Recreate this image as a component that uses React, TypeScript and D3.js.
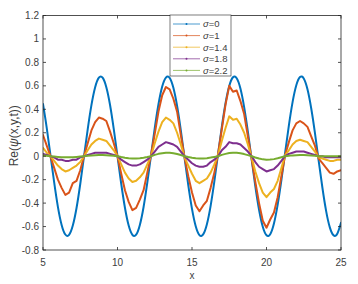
import React from "react";
import * as d3 from "d3";

const xStart = 5;
const xStep = 0.25;

const sigma0 = [0.445, 0.242, 0.009, -0.224, -0.432, -0.586, -0.668, -0.671, -0.592, -0.442, -0.237, -0.003, 0.229, 0.435, 0.588, 0.67, 0.67, 0.589, 0.437, 0.231, -0.002, -0.235, -0.44, -0.592, -0.67, -0.669, -0.586, -0.433, -0.226, 0.008, 0.24, 0.443, 0.594, 0.671, 0.668, 0.583, 0.428, 0.22, -0.014, -0.246, -0.449, -0.597, -0.673, -0.667, -0.58, -0.423, -0.215, 0.02, 0.251, 0.453, 0.599, 0.673, 0.665, 0.577, 0.418, 0.209, -0.025, -0.257, -0.457, -0.602, -0.674, -0.665, -0.574, -0.413, -0.204, 0.031, 0.261, 0.461, 0.605, 0.675, 0.663, 0.571, 0.409, 0.199, -0.037, -0.267, -0.466, -0.607, -0.675, -0.662, -0.568];

const sigma1 = [0.18, 0.09, 0.0, -0.1, -0.2, -0.27, -0.33, -0.31, -0.23, -0.21, -0.12, 0.0, 0.11, 0.22, 0.29, 0.33, 0.32, 0.3, 0.21, 0.11, 0.0, -0.15, -0.29, -0.39, -0.46, -0.44, -0.37, -0.29, -0.14, 0.01, 0.19, 0.38, 0.52, 0.59, 0.57, 0.49, 0.38, 0.18, -0.01, -0.17, -0.31, -0.42, -0.47, -0.42, -0.38, -0.27, -0.14, 0.02, 0.23, 0.44, 0.6, 0.55, 0.56, 0.47, 0.36, 0.17, -0.02, -0.22, -0.4, -0.55, -0.61, -0.54, -0.48, -0.35, -0.17, 0.01, 0.12, 0.22, 0.28, 0.3, 0.28, 0.25, 0.17, 0.09, -0.02, -0.06, -0.1, -0.14, -0.15, -0.13, -0.12];

const sigma14 = [0.07, 0.03, 0.0, -0.04, -0.08, -0.11, -0.13, -0.12, -0.1, -0.08, -0.05, 0.0, 0.05, 0.1, 0.13, 0.15, 0.14, 0.13, 0.09, 0.05, 0.0, -0.07, -0.14, -0.19, -0.22, -0.21, -0.18, -0.14, -0.07, 0.0, 0.11, 0.21, 0.29, 0.33, 0.31, 0.28, 0.2, 0.1, -0.01, -0.08, -0.15, -0.21, -0.23, -0.21, -0.19, -0.14, -0.07, 0.01, 0.13, 0.24, 0.34, 0.31, 0.32, 0.27, 0.2, 0.1, -0.01, -0.13, -0.23, -0.31, -0.35, -0.31, -0.28, -0.21, -0.1, 0.01, 0.05, 0.1, 0.13, 0.14, 0.13, 0.12, 0.08, 0.04, -0.01, -0.02, -0.03, -0.04, -0.04, -0.03, -0.03];

const sigma18 = [0.02, 0.01, 0.0, -0.01, -0.03, -0.03, -0.04, -0.04, -0.03, -0.03, -0.01, 0.0, 0.01, 0.02, 0.03, 0.03, 0.03, 0.03, 0.02, 0.01, 0.0, -0.03, -0.05, -0.07, -0.08, -0.08, -0.07, -0.05, -0.03, 0.0, 0.04, 0.08, 0.1, 0.12, 0.11, 0.1, 0.08, 0.04, 0.0, -0.03, -0.06, -0.08, -0.09, -0.09, -0.08, -0.05, -0.03, 0.0, 0.05, 0.08, 0.12, 0.11, 0.11, 0.1, 0.07, 0.04, 0.0, -0.05, -0.09, -0.11, -0.13, -0.12, -0.11, -0.08, -0.04, 0.0, 0.02, 0.03, 0.04, 0.04, 0.04, 0.03, 0.02, 0.01, 0.0, -0.0, -0.01, -0.01, -0.01, -0.01, -0.01];

const sigma22 = [0.005, 0.003, 0.0, -0.003, -0.006, -0.009, -0.01, -0.01, -0.009, -0.006, -0.003, 0.0, 0.003, 0.006, 0.009, 0.01, 0.01, 0.009, 0.006, 0.003, 0.0, -0.007, -0.013, -0.017, -0.02, -0.02, -0.017, -0.013, -0.007, 0.0, 0.011, 0.02, 0.026, 0.03, 0.03, 0.026, 0.019, 0.01, 0.0, -0.007, -0.013, -0.018, -0.02, -0.02, -0.017, -0.012, -0.006, 0.0, 0.011, 0.02, 0.027, 0.03, 0.029, 0.025, 0.018, 0.009, 0.0, -0.011, -0.02, -0.027, -0.03, -0.029, -0.025, -0.018, -0.009, 0.0, 0.004, 0.007, 0.009, 0.01, 0.01, 0.008, 0.006, 0.003, 0.0, 0.0, 0.0, 0.0, 0.0, 0.0, 0.0];

const seriesNames = ["σ=0", "σ=1", "σ=1.4", "σ=1.8", "σ=2.2"];
const seriesValues = [sigma0, sigma1, sigma14, sigma18, sigma22];
const seriesColors = ["#0072BD", "#D95319", "#EDB120", "#7E2F8E", "#77AC30"];

const xTicks = [5, 10, 15, 20, 25];
const yTicks = [-0.8, -0.6, -0.4, -0.2, 0, 0.2, 0.4, 0.6, 0.8, 1, 1.2];

export default function App() {
  const W = 358, H = 284;
  const L = 43, R = 341, T = 15.5, B = 250;
  const x = d3.scaleLinear().domain([5, 25]).range([L, R]);
  const y = d3.scaleLinear().domain([-0.8, 1.2]).range([B, T]);
  const axisColor = "#262626";
  const textColor = "#404040";
  const font = "'Liberation Sans', Arial, sans-serif";

  const paths = seriesValues.map((vals, si) => {
    const line = d3
      .line<number>()
      .x((_, i) => x(xStart + i * xStep))
      .y((v) => y(v))
      .curve(si === 0 ? d3.curveNatural : d3.curveLinear);
    return line(vals) || "";
  });

  const legX = 170, legY = 15, legW = 61, legH = 61;
  const rowH = 11.6;

  return (
    <div style={{ position: "fixed", left: 0, top: 0 }}>
      <svg width={W} height={H} style={{ display: "block", background: "#fff" }}>
        <defs>
          <clipPath id="plotclip">
            <rect x={L} y={T} width={R - L} height={B - T} />
          </clipPath>
        </defs>
        <g clipPath="url(#plotclip)">
          {paths.map((d, i) => (
            <path
              key={i}
              d={d}
              fill="none"
              stroke={seriesColors[i]}
              strokeWidth={2}
              strokeLinejoin="round"
              strokeLinecap="round"
            />
          ))}
        </g>
        <rect x={L} y={T} width={R - L} height={B - T} fill="none" stroke={axisColor} strokeWidth={0.8} />
        {xTicks.map((t) => (
          <g key={"x" + t}>
            <line x1={x(t)} x2={x(t)} y1={B} y2={B - 3} stroke={axisColor} strokeWidth={0.8} />
            <line x1={x(t)} x2={x(t)} y1={T} y2={T + 3} stroke={axisColor} strokeWidth={0.8} />
            <text x={x(t)} y={B + 16} textAnchor="middle" fontSize={10} fill={textColor} fontFamily={font}>
              {t}
            </text>
          </g>
        ))}
        {yTicks.map((t) => (
          <g key={"y" + t}>
            <line x1={L} x2={L + 3} y1={y(t)} y2={y(t)} stroke={axisColor} strokeWidth={0.8} />
            <line x1={R} x2={R - 3} y1={y(t)} y2={y(t)} stroke={axisColor} strokeWidth={0.8} />
            <text x={L - 4} y={y(t) + 3.5} textAnchor="end" fontSize={10} fill={textColor} fontFamily={font}>
              {d3.format("~g")(t).replace("−", "-")}
            </text>
          </g>
        ))}
        <text x={(L + R) / 2} y={278.5} textAnchor="middle" fontSize={10} fill={textColor} fontFamily={font}>
          x
        </text>
        <text
          transform={`translate(18, ${(T + B) / 2 + 3}) rotate(-90)`}
          textAnchor="middle"
          fontSize={12}
          fill={textColor}
          fontFamily={font}
        >
          Re(<tspan fontStyle="italic">ψ</tspan>(x,y,t))
        </text>
        <rect x={legX} y={legY} width={legW} height={legH} fill="#fff" stroke="#262626" strokeWidth={0.6} />
        {seriesNames.map((name, i) => {
          const cy = legY + 9 + i * rowH;
          return (
            <g key={name}>
              <line x1={legX + 3} x2={legX + 30} y1={cy} y2={cy} stroke={seriesColors[i]} strokeWidth={1} opacity={0.7} />
              <circle cx={legX + 16.5} cy={cy} r={1} fill={seriesColors[i]} />
              <text x={legX + 33} y={cy + 3.3} fontSize={9.5} fill={textColor} fontFamily={font}>
                <tspan fontStyle="italic">σ</tspan>
                {name.slice(1)}
              </text>
            </g>
          );
        })}
      </svg>
    </div>
  );
}
